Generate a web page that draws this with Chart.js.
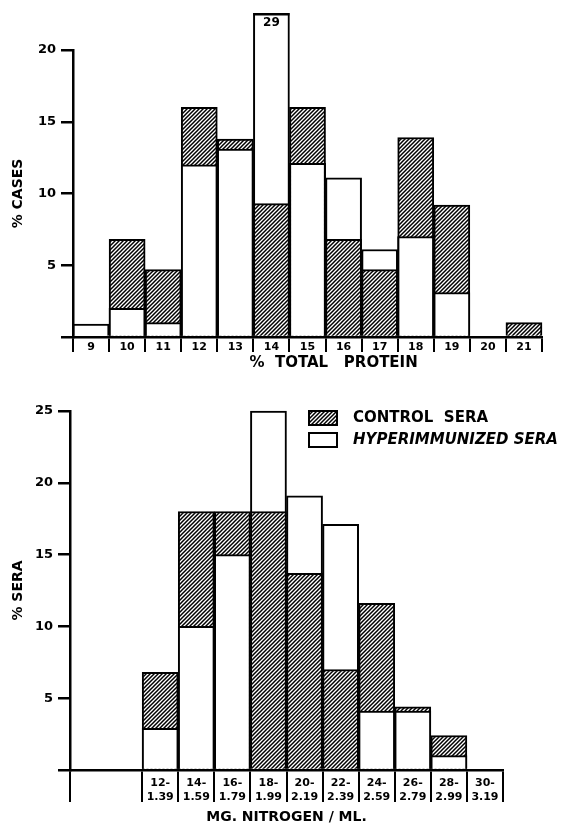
<!DOCTYPE html>
<html>
<head>
<meta charset="utf-8">
<script src="https://cdn.jsdelivr.net/npm/chart.js@4.4.0/dist/chart.umd.min.js"></script>
<style>
  html, body { margin: 0; padding: 0; background: #fff; }
  body { width: 573px; height: 826px; position: relative; overflow: hidden; }
  canvas { position: absolute; left: 0; }
  #protein { top: 0; }
  #nitrogen { top: 380px; }
</style>
</head>
<body>
<canvas id="protein" width="573" height="372"></canvas>
<canvas id="nitrogen" width="573" height="446"></canvas>
<script>
// top histogram: % total protein
const proteinLabels = ['9', '10', '11', '12', '13', '14', '15', '16', '17', '18', '19', '20', '21'];
const proteinControl = [0, 6.8, 4.7, 16.0, 13.8, 9.3, 16.0, 6.8, 4.7, 13.9, 9.2, 0, 1.0];
const proteinHyper = [0.9, 2.0, 1.0, 12.0, 13.1, 29, 12.1, 11.1, 6.1, 7.0, 3.1, 0, 0];

// bottom histogram: mg nitrogen / ml (first two classes are empty)
const nitrogenLabels = ['', '', ['12-', '1.39'], ['14-', '1.59'], ['16-', '1.79'], ['18-', '1.99'], ['20-', '2.19'],
  ['22-', '2.39'], ['24-', '2.59'], ['26-', '2.79'], ['28-', '2.99'], ['30-', '3.19']];
const nitrogenControl = [0, 0, 6.8, 18.0, 18.0, 18.0, 13.7, 7.0, 11.6, 4.4, 2.4, 0];
const nitrogenHyper = [0, 0, 2.9, 10.0, 15.0, 25.0, 19.1, 17.1, 4.1, 4.1, 1.0, 0];

const seriesNames = ['CONTROL  SERA', 'HYPERIMMUNIZED SERA'];

const FONT = 'DejaVu Sans';
Chart.defaults.font.family = FONT;
Chart.defaults.font.weight = 'bold';
Chart.defaults.color = '#000';

function makeHatch() {
    const c = document.createElement('canvas');
    c.width = 4;
    c.height = 4;
    const g = c.getContext('2d');
    g.fillStyle = '#fff';
    g.fillRect(0, 0, 4, 4);
    g.strokeStyle = '#000';
    g.lineWidth = 1.5;
    g.beginPath();
    g.moveTo(-1, 5); g.lineTo(5, -1);
    g.moveTo(-1, 1); g.lineTo(1, -1);
    g.moveTo(3, 5); g.lineTo(5, 3);
    g.stroke();
    return g.createPattern(c, 'repeat');
}
const hatch = makeHatch();

function barSet(label, data, fill) {
    return {
        label: label,
        data: data,
        backgroundColor: fill,
        borderColor: '#000',
        borderWidth: 2,
        grouped: false,
        categoryPercentage: 1,
        barPercentage: 1,
        clip: { left: false, right: false, top: 37, bottom: false }
    };
}

// dataset 0 is painted last; put the other one back on top where it is the shorter bar
const shortOnTop = {
    id: 'shortOnTop',
    afterDatasetsDraw(chart) {
        const ctx = chart.ctx;
        const front = chart.data.datasets[0].data;
        const back = chart.data.datasets[1].data;
        const meta = chart.getDatasetMeta(1);
        ctx.save();
        for (let i = 0; i < back.length; i++) {
            if (back[i] > 0 && back[i] < front[i]) meta.data[i].draw(ctx);
        }
        ctx.restore();
    }
};

// bars running off the top get a cap and their value written in
const clippedTops = {
    id: 'clippedTops',
    afterDatasetsDraw(chart, args, opts) {
        const ctx = chart.ctx;
        const yMax = chart.scales.y.max;
        const top = chart.chartArea.top - opts.overflow;
        chart.data.datasets.forEach((ds, d) => {
            chart.getDatasetMeta(d).data.forEach((bar, i) => {
                if (ds.data[i] <= yMax) return;
                ctx.save();
                ctx.fillStyle = '#000';
                ctx.fillRect(bar.x - bar.width / 2, top, bar.width, 2.5);
                ctx.font = 'bold 12px ' + FONT;
                ctx.textAlign = 'center';
                ctx.textBaseline = 'middle';
                ctx.fillText(String(ds.data[i]), bar.x, top + 10);
                ctx.restore();
            });
        });
    }
};

const boxLegend = {
    id: 'boxLegend',
    afterDraw(chart, args, opts) {
        if (!opts.show) return;
        const ctx = chart.ctx;
        ctx.save();
        seriesNames.forEach((name, i) => {
            const top = opts.y + i * 22;
            ctx.fillStyle = chart.data.datasets[i].backgroundColor;
            ctx.fillRect(opts.x, top, 28, 14);
            ctx.strokeStyle = '#000';
            ctx.lineWidth = 2;
            ctx.strokeRect(opts.x, top, 28, 14);
            ctx.fillStyle = '#000';
            ctx.font = (i === 1 ? 'italic ' : '') + 'bold 15px ' + FONT;
            ctx.textBaseline = 'middle';
            ctx.fillText(name, opts.x + 44, top + 7);
        });
        ctx.restore();
    }
};

function makeChart(id, cfg) {
    return new Chart(document.getElementById(id), {
        type: 'bar',
        data: {
            labels: cfg.labels,
            datasets: [barSet(seriesNames[0], cfg.control, hatch), barSet(seriesNames[1], cfg.hyper, '#fff')]
        },
        options: {
            responsive: false,
            animation: false,
            layout: { padding: cfg.padding },
            plugins: {
                legend: { display: false },
                tooltip: { enabled: false },
                clippedTops: { overflow: 37 },
                boxLegend: cfg.legend
            },
            scales: {
                x: {
                    grid: {
                        offset: true,
                        drawOnChartArea: false,
                        color: cfg.gridColor,
                        lineWidth: 2,
                        tickLength: cfg.tickLength
                    },
                    border: { color: '#000', width: 2.5 },
                    ticks: {
                        padding: cfg.labelPad,
                        font: { size: 11, weight: 'bold' },
                        maxRotation: 0,
                        autoSkip: false
                    },
                    title: {
                        display: true,
                        text: cfg.xTitle,
                        font: { size: cfg.xTitleSize, weight: 'bold' },
                        padding: { top: 0, bottom: cfg.xTitlePad }
                    },
                    afterFit: s => { s.height = cfg.xHeight; }
                },
                y: {
                    min: 0,
                    max: cfg.yMax,
                    ticks: {
                        stepSize: 5,
                        padding: 5,
                        font: { size: 13, weight: 'bold' },
                        callback: v => v === 0 ? '' : v
                    },
                    grid: { drawOnChartArea: false, color: '#000', lineWidth: 2.5, tickLength: 12 },
                    border: { color: '#000', width: 2.5 },
                    title: {
                        display: true,
                        text: cfg.yTitle,
                        font: { size: 14, weight: 'bold' },
                        padding: { top: 10, bottom: 0 }
                    },
                    afterFit: s => { s.width = cfg.yWidth; }
                }
            }
        },
        plugins: [shortOnTop, clippedTops, boxLegend]
    });
}

makeChart('protein', {
    labels: proteinLabels,
    control: proteinControl,
    hyper: proteinHyper,
    yMax: 20,
    yTitle: '% CASES',
    // leading spaces push the title right of centre, as in the original
    xTitle: '          %  TOTAL   PROTEIN',
    xTitleSize: 15,
    padding: { left: 0, top: 50, right: 31, bottom: 0 },
    yWidth: 73,
    xHeight: 35,
    tickLength: 15,
    labelPad: -11,
    xTitlePad: 0,
    gridColor: '#000',
    legend: { show: false }
});

makeChart('nitrogen', {
    labels: nitrogenLabels,
    control: nitrogenControl,
    hyper: nitrogenHyper,
    yMax: 25,
    yTitle: '% SERA',
    xTitle: 'MG. NITROGEN / ML.',
    xTitleSize: 14,
    padding: { left: 0, top: 31, right: 70, bottom: 0 },
    yWidth: 70,
    xHeight: 56,
    tickLength: 32,
    labelPad: -25,
    xTitlePad: 0,
    // no divider between the two empty classes
    gridColor: c => c.index === 1 ? 'rgba(0,0,0,0)' : '#000',
    legend: { show: true, x: 309, y: 31 }
});
</script>
</body>
</html>
